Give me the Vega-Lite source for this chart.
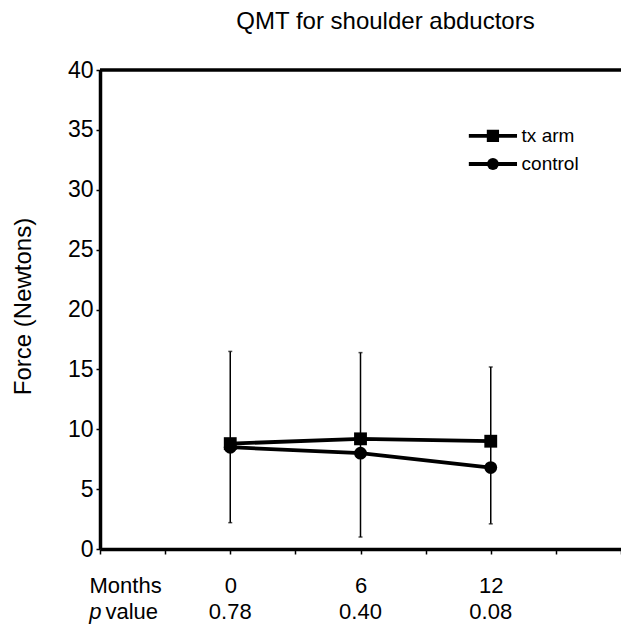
{
  "$schema": "https://vega.github.io/schema/vega-lite/v6.json",
  "width": 521,
  "height": 479,
  "autosize": {"type": "none"},
  "padding": {"left": 100, "top": 70, "right": 0, "bottom": 82},
  "title": {
    "text": "QMT for shoulder abductors",
    "font": "Liberation Sans",
    "fontSize": 24,
    "fontWeight": "normal",
    "color": "black",
    "anchor": "middle",
    "dx": 25,
    "offset": 25
  },
  "config": {
    "view": {"stroke": null},
    "font": "Liberation Sans",
    "text": {"font": "Liberation Sans"},
    "axis": {
      "grid": false,
      "labelColor": "black",
      "labelFont": "Liberation Sans",
      "labelFontSize": 22,
      "tickColor": "black",
      "tickWidth": 1.5,
      "domainColor": "black",
      "domainWidth": 3.5,
      "titleColor": "black",
      "titleFont": "Liberation Sans",
      "titleFontSize": 22,
      "titleFontWeight": "normal"
    }
  },
  "datasets": {
    "means": [
      {"month": 0, "group": "tx arm", "force": 8.8},
      {"month": 6, "group": "tx arm", "force": 9.2},
      {"month": 12, "group": "tx arm", "force": 9.0},
      {"month": 0, "group": "control", "force": 8.5},
      {"month": 6, "group": "control", "force": 8.0},
      {"month": 12, "group": "control", "force": 6.8}
    ],
    "errs": [
      {"month": 0, "lo": 2.2, "hi": 16.5},
      {"month": 6, "lo": 1.0, "hi": 16.4},
      {"month": 12, "lo": 2.1, "hi": 15.2}
    ],
    "pvals": [
      {"month": 0, "p": "0.78"},
      {"month": 6, "p": "0.40"},
      {"month": 12, "p": "0.08"}
    ]
  },
  "layer": [
    {
      "data": {"name": "errs"},
      "mark": {"type": "rule", "color": "black", "strokeWidth": 1.5},
      "encoding": {
        "x": {
          "field": "month",
          "type": "quantitative",
          "scale": {"domain": [-6, 18], "nice": false, "zero": false},
          "axis": {
            "values": [-6, -3, 0, 3, 6, 9, 12, 15, 18],
            "labelExpr": "(datum.value == 0 || datum.value == 6 || datum.value == 12) ? datum.label : ''",
            "labelPadding": 21,
            "labelFlush": false,
            "labelOverlap": false,
            "tickSize": 5,
            "title": "Months",
            "titleX": -11,
            "titleY": 26,
            "titleAlign": "left",
            "titleBaseline": "top",
            "titleAnchor": "start"
          }
        },
        "y": {
          "field": "lo",
          "type": "quantitative",
          "scale": {"domain": [0, 40], "nice": false},
          "axis": {
            "values": [0, 5, 10, 15, 20, 25, 30, 35, 40],
            "labelFontSize": 23,
            "labelPadding": 3,
            "tickSize": 4,
            "title": "Force (Newtons)",
            "titleFontSize": 24,
            "titleX": -77,
            "titleY": 236,
            "titleAngle": -90,
            "titleAlign": "center",
            "titleBaseline": "middle"
          }
        },
        "y2": {"field": "hi"}
      }
    },
    {
      "data": {"values": [{}]},
      "mark": {"type": "rule", "color": "black", "strokeWidth": 3.5},
      "encoding": {"y": {"datum": 40, "type": "quantitative"}}
    },
    {
      "data": {"name": "errs"},
      "mark": {"type": "tick", "color": "black", "orient": "horizontal", "size": 4, "thickness": 1.5},
      "encoding": {
        "x": {"field": "month", "type": "quantitative"},
        "y": {"field": "lo", "type": "quantitative"}
      }
    },
    {
      "data": {"name": "errs"},
      "mark": {"type": "tick", "color": "black", "orient": "horizontal", "size": 4, "thickness": 1.5},
      "encoding": {
        "x": {"field": "month", "type": "quantitative"},
        "y": {"field": "hi", "type": "quantitative"}
      }
    },
    {
      "data": {"name": "means"},
      "mark": {"type": "line", "color": "black", "strokeWidth": 3.8},
      "encoding": {
        "x": {"field": "month", "type": "quantitative"},
        "y": {"field": "force", "type": "quantitative"},
        "detail": {"field": "group"}
      }
    },
    {
      "data": {"name": "means"},
      "mark": {"type": "point", "filled": true, "color": "black", "opacity": 1, "size": 165},
      "encoding": {
        "x": {"field": "month", "type": "quantitative"},
        "y": {"field": "force", "type": "quantitative"},
        "shape": {
          "field": "group",
          "type": "nominal",
          "scale": {"domain": ["tx arm", "control"], "range": ["square", "circle"]},
          "legend": null
        }
      }
    },
    {
      "data": {"values": [{}]},
      "mark": {"type": "rule", "color": "black", "strokeWidth": 3.8},
      "encoding": {
        "x": {"datum": 10.99, "type": "quantitative"},
        "x2": {"datum": 13.21},
        "y": {"datum": 34.5, "type": "quantitative"}
      }
    },
    {
      "data": {"values": [{}]},
      "mark": {"type": "point", "shape": "square", "filled": true, "color": "black", "opacity": 1, "size": 150},
      "encoding": {
        "x": {"datum": 12.1, "type": "quantitative"},
        "y": {"datum": 34.5, "type": "quantitative"}
      }
    },
    {
      "data": {"values": [{}]},
      "mark": {"type": "text", "color": "black", "fontSize": 19, "baseline": "middle", "align": "left", "text": "tx arm"},
      "encoding": {
        "x": {"datum": 13.42, "type": "quantitative"},
        "y": {"datum": 34.5, "type": "quantitative"}
      }
    },
    {
      "data": {"values": [{}]},
      "mark": {"type": "rule", "color": "black", "strokeWidth": 3.8},
      "encoding": {
        "x": {"datum": 10.99, "type": "quantitative"},
        "x2": {"datum": 13.21},
        "y": {"datum": 32.15, "type": "quantitative"}
      }
    },
    {
      "data": {"values": [{}]},
      "mark": {"type": "point", "shape": "circle", "filled": true, "color": "black", "opacity": 1, "size": 140},
      "encoding": {
        "x": {"datum": 12.1, "type": "quantitative"},
        "y": {"datum": 32.15, "type": "quantitative"}
      }
    },
    {
      "data": {"values": [{}]},
      "mark": {"type": "text", "color": "black", "fontSize": 19, "baseline": "middle", "align": "left", "text": "control"},
      "encoding": {
        "x": {"datum": 13.42, "type": "quantitative"},
        "y": {"datum": 32.15, "type": "quantitative"}
      }
    },
    {
      "data": {"name": "pvals"},
      "mark": {"type": "text", "color": "black", "fontSize": 22, "baseline": "middle", "align": "center"},
      "encoding": {
        "x": {"field": "month", "type": "quantitative"},
        "y": {"datum": -5.26, "type": "quantitative"},
        "text": {"field": "p"}
      }
    },
    {
      "data": {"values": [{}]},
      "mark": {"type": "text", "color": "black", "fontSize": 22, "baseline": "middle", "align": "left", "fontStyle": "italic", "text": "p"},
      "encoding": {
        "x": {"datum": -6.5, "type": "quantitative"},
        "y": {"datum": -5.26, "type": "quantitative"}
      }
    },
    {
      "data": {"values": [{}]},
      "mark": {"type": "text", "color": "black", "fontSize": 22, "baseline": "middle", "align": "left", "text": "value"},
      "encoding": {
        "x": {"datum": -5.75, "type": "quantitative"},
        "y": {"datum": -5.26, "type": "quantitative"}
      }
    }
  ]
}
